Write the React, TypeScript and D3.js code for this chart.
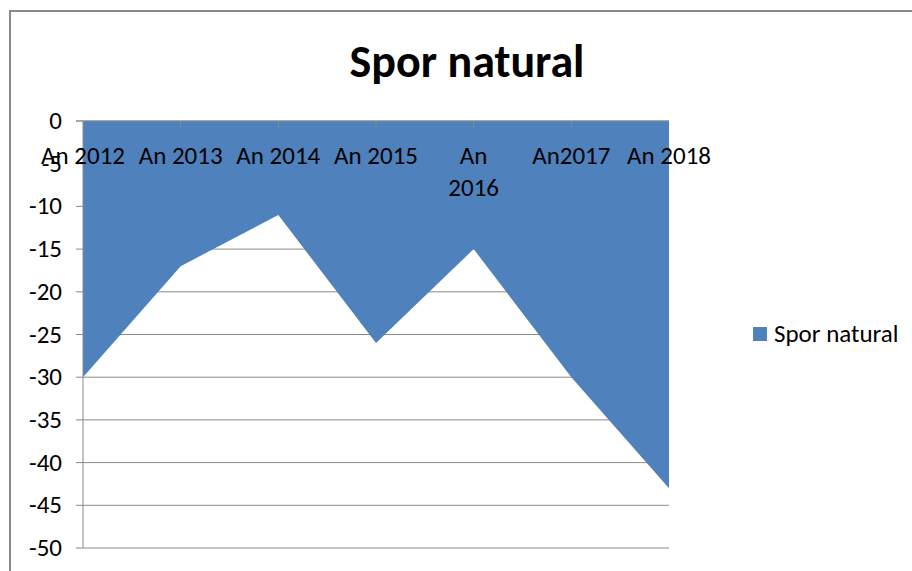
import React from 'react';
import * as d3 from 'd3';

const categories = ['An 2012', 'An 2013', 'An 2014', 'An 2015', 'An 2016', 'An2017', 'An 2018'];
const categoryLines = [['An 2012'], ['An 2013'], ['An 2014'], ['An 2015'], ['An', '2016'], ['An2017'], ['An 2018']];
const sporNatural = [-30, -17, -11, -26, -15, -30, -43];
const yTicks = [0, -5, -10, -15, -20, -25, -30, -35, -40, -45, -50];

const W = 912;
const H = 571;
const font = 'Carlito, Lato, "Open Sans", sans-serif';

export default function App() {
  const x = d3.scalePoint<string>().domain(categories).range([83, 669]);
  const y = d3.scaleLinear().domain([-50, 0]).range([548, 121]);

  const area = d3
    .area<number>()
    .x((_, i) => x(categories[i]) ?? 0)
    .y0(y(0))
    .y1((d) => y(d));

  return (
    <svg
      width={W}
      height={H}
      style={{ position: 'absolute', left: 0, top: 0, background: '#fff' }}
      fontFamily={font}
    >
      <text x={12} y={-8} fontSize={30} fill="#000">g</text>
      <rect x={10} y={11} width={W + 20} height={H + 20} fill="#fff" stroke="#888" strokeWidth={2} />

      <text x={467} y={77} textAnchor="middle" fontSize={46} fontWeight="bold" fill="#000">
        Spor natural
      </text>

      {/* gridlines */}
      {yTicks.map((t) => (
        <line key={t} x1={76} x2={669} y1={y(t)} y2={y(t)} stroke="#8a8a8a" strokeWidth={1} />
      ))}

      <path d={area(sporNatural) ?? ''} fill="#4F81BD" />

      {/* axes */}
      <line x1={83} x2={83} y1={y(0)} y2={y(-50)} stroke="#8a8a8a" />
      <line x1={76} x2={669} y1={y(0)} y2={y(0)} stroke="#8a8a8a" />
      {categories.slice(1, -1).map((c) => (
        <line key={c} x1={x(c)} x2={x(c)} y1={y(0)} y2={y(0) + 8} stroke="#8a8a8a" />
      ))}

      {yTicks.map((t) => (
        <text key={t} x={62} y={y(t) + 8} textAnchor="end" fontSize={25} fill="#000">
          {t}
        </text>
      ))}

      {categories.map((c, i) => (
        <text key={c} x={x(c)} y={164} textAnchor="middle" fontSize={25} fill="#000">
          {categoryLines[i].map((line, j) => (
            <tspan key={j} x={x(c)} dy={j === 0 ? 0 : 32}>
              {line}
            </tspan>
          ))}
        </text>
      ))}

      {/* legend */}
      <rect x={753} y={327} width={14} height={14} fill="#4F81BD" />
      <text x={774} y={342} fontSize={25} fill="#000">
        Spor natural
      </text>
    </svg>
  );
}
